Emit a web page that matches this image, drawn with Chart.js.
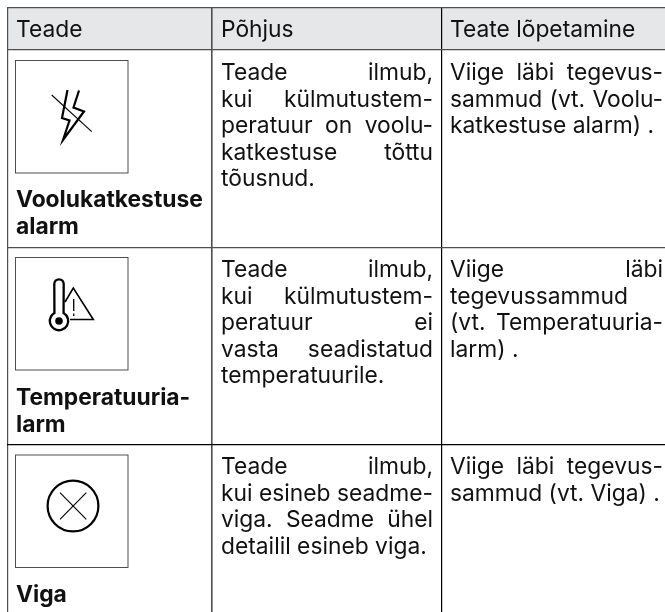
<!DOCTYPE html>
<html lang="et">
<head>
<meta charset="utf-8">
<title>Teated</title>
<script src="https://cdn.jsdelivr.net/npm/chart.js@4"></script>
<style>
  html, body { margin: 0; padding: 0; background: #fff; }
  canvas { display: block; }
</style>
</head>
<body>
<canvas id="table-chart" width="665" height="612"></canvas>
<script>
// table content, line breaks as in the picture
const headers = ['Teade', 'Põhjus', 'Teate lõpetamine'];
const alarmTitles = [
  ['Voolukatkestuse', 'alarm'],
  ['Temperatuuria-', 'larm'],
  ['Viga'],
];
const causes = [
  ['Teade ilmub,', 'kui külmutustem-', 'peratuur on voolu-', 'katkestuse tõttu', 'tõusnud.'],
  ['Teade ilmub,', 'kui külmutustem-', 'peratuur ei', 'vasta seadistatud', 'temperatuurile.'],
  ['Teade ilmub,', 'kui esineb seadme-', 'viga. Seadme ühel', 'detailil esineb viga.'],
];
const actions = [
  ['Viige läbi tegevus-', 'sammud (vt. Voolu-', 'katkestuse alarm) .'],
  ['Viige läbi', 'tegevussammud', '(vt. Temperatuuria-', 'larm) .'],
  ['Viige läbi tegevus-', 'sammud (vt. Viga) .'],
];

// rules of the table, in page pixels
const columnRules = [7.5, 212, 441.5];
const rowRules = [8, 50, 248, 445];
const darkColumnRules = [441.5];
const darkRowRules = [445];

const GRAY = '#4d4e50';
const INK = '#111';
const FONT = 'Inter, sans-serif';
const FONT_SIZE = 22.8;
const LINE_HEIGHT = 26.6;

function drawLines(ctx, lines, left, right, baseline, justify) {
  lines.forEach((line, i) => {
    const y = baseline + i * LINE_HEIGHT;
    const words = line.split(' ');
    if (!justify || i === lines.length - 1 || words.length === 1) {
      ctx.fillText(line, left, y);
      return;
    }
    const used = words.reduce((sum, w) => sum + ctx.measureText(w).width, 0);
    const gap = (right - left - used) / (words.length - 1);
    let x = left;
    words.forEach((w) => {
      ctx.fillText(w, x, y);
      x += ctx.measureText(w).width + gap;
    });
  });
}

function strokePath(ctx, points, width) {
  ctx.lineWidth = width;
  ctx.beginPath();
  points.forEach(([x, y], i) => (i ? ctx.lineTo(x, y) : ctx.moveTo(x, y)));
  ctx.stroke();
}

function drawBolt(ctx) {
  strokePath(ctx, [[67.5, 90], [62, 118], [69.5, 120.5], [63, 140], [84, 111.5], [73.5, 107.5], [79, 90.5]], 2.2);
  strokePath(ctx, [[51.7, 95], [91.7, 131.7]], 1.1);
}

function drawThermometer(ctx) {
  ctx.lineWidth = 2.3;
  ctx.beginPath();
  ctx.arc(59, 321, 9.2, -Math.PI / 2 + 0.52, -Math.PI / 2 - 0.52);
  ctx.lineTo(54.3, 284);
  ctx.arc(59, 284, 4.7, Math.PI, 0);
  ctx.closePath();
  ctx.stroke();
  ctx.beginPath();
  ctx.arc(59, 321, 3.8, 0, Math.PI * 2);
  ctx.fill();
  strokePath(ctx, [[65, 302], [73.3, 288], [93.3, 319.5], [70, 319.5]], 1.6);
  strokePath(ctx, [[73.7, 299], [73.7, 311]], 1.3);
  strokePath(ctx, [[73.7, 313.5], [73.7, 316]], 1.3);
}

function drawFault(ctx) {
  ctx.lineWidth = 2.2;
  ctx.beginPath();
  ctx.arc(73, 506, 25.4, 0, Math.PI * 2);
  ctx.stroke();
  strokePath(ctx, [[60, 492.7], [86.3, 519.3]], 1.1);
  strokePath(ctx, [[86.3, 492.7], [60, 519.3]], 1.1);
}

const tablePlugin = {
  id: 'tablePlugin',
  beforeDraw(chart) {
    const { ctx, scales: { x, y } } = chart;
    ctx.save();
    ctx.fillStyle = '#fff';
    ctx.fillRect(0, 0, chart.width, chart.height);
    ctx.fillStyle = '#e6e7e8';
    ctx.fillRect(x.getPixelForValue(7.5), y.getPixelForValue(8), chart.width, y.getPixelForValue(50) - y.getPixelForValue(8));
    ctx.restore();
  },
  afterDraw(chart) {
    const { ctx } = chart;
    ctx.save();
    ctx.fillStyle = INK;
    ctx.textBaseline = 'alphabetic';
    ctx.textAlign = 'left';

    ctx.font = `${FONT_SIZE}px ${FONT}`;
    const lefts = [16, 221, 450];
    headers.forEach((h, i) => ctx.fillText(h, lefts[i], 37));

    const rowBaselines = [80, 277, 474];
    causes.forEach((lines, i) => drawLines(ctx, lines, 221, 433, rowBaselines[i], true));
    actions.forEach((lines, i) => drawLines(ctx, lines, 450, 663, rowBaselines[i], true));

    ctx.font = `bold ${FONT_SIZE}px ${FONT}`;
    const titleBaselines = [207, 405, 602];
    alarmTitles.forEach((lines, i) => drawLines(ctx, lines, 16, 202, titleBaselines[i], false));

    // icon boxes
    ctx.strokeStyle = GRAY;
    ctx.lineWidth = 1;
    [60.5, 257.5, 455].forEach((top) => ctx.strokeRect(15.5, top, 112.5, 112.5));

    ctx.strokeStyle = '#000';
    ctx.fillStyle = '#000';
    drawBolt(ctx);
    drawThermometer(ctx);
    drawFault(ctx);
    ctx.restore();
  },
};

new Chart(document.getElementById('table-chart'), {
  type: 'scatter',
  data: { datasets: [] },
  plugins: [tablePlugin],
  options: {
    responsive: false,
    animation: false,
    layout: { padding: { left: 7, top: 8, right: 0, bottom: 0 } },
    plugins: { legend: { display: false }, tooltip: { enabled: false } },
    scales: {
      x: {
        type: 'linear',
        min: 7,
        max: 665,
        afterBuildTicks: (scale) => { scale.ticks = columnRules.map((value) => ({ value })); },
        ticks: { display: false },
        border: { display: false },
        grid: {
          drawTicks: false,
          color: (c) => (darkColumnRules.includes(c.tick.value) ? '#000' : GRAY),
          lineWidth: (c) => (c.tick.value === 212 ? 1.6 : 1.2),
        },
      },
      y: {
        type: 'linear',
        reverse: true,
        min: 8,
        max: 612,
        afterBuildTicks: (scale) => { scale.ticks = rowRules.map((value) => ({ value })); },
        ticks: { display: false },
        border: { display: false },
        grid: {
          drawTicks: false,
          color: (c) => (darkRowRules.includes(c.tick.value) ? '#000' : GRAY),
          lineWidth: 1.2,
        },
      },
    },
  },
});
</script>
</body>
</html>
